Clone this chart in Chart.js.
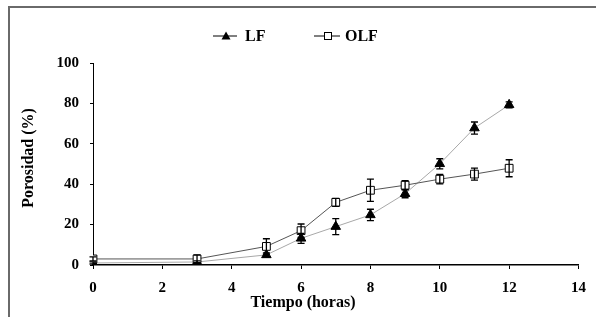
<!DOCTYPE html>
<html>
<head>
<meta charset="utf-8">
<script src="https://cdn.jsdelivr.net/npm/chart.js@4"></script>
<style>
  html, body { margin: 0; padding: 0; background: #fff; }
  #wrap { position: relative; width: 596px; height: 317px; }
  #frame { position: absolute; left: 8px; top: 6px; width: 600px; height: 320px;
           border-left: 2px solid #6a6a6a; border-top: 2px solid #6a6a6a; box-sizing: border-box; }
  canvas { position: absolute; left: 0; top: 0; }
</style>
</head>
<body>
<div id="wrap">
  <div id="frame"></div>
  <canvas id="c" width="596" height="317"></canvas>
</div>
<script>
// ---- data ----
const timeHours = [0, 3, 5, 6, 7, 8, 9, 10, 11, 12];
const lfValues  = [1, 1.5, 5, 13.2, 19, 24.8, 35.3, 50.1, 67.8, 79.3];
const lfErrors  = [0.5, 0.5, 1, 2.5, 4, 2.8, 2, 2.5, 3, 1.5];
const olfValues = [3, 3, 9.2, 17, 31, 37, 39.5, 42.5, 45, 47.9];
const olfErrors = [1, 2, 3.8, 3.3, 2, 5.5, 2.3, 2.3, 3, 4.2];
const seriesNames = ['LF', 'OLF'];
const xTitle = 'Tiempo (horas)';
const yTitle = 'Porosidad (%)';

const toPts = (xs, ys) => xs.map((x, i) => ({x: x, y: ys[i]}));
const FONT = '"Liberation Serif", "Times New Roman", serif';

const errorBars = {
  id: 'errorBars',
  afterDatasetsDraw(chart) {
    const ctx = chart.ctx, xs = chart.scales.x, ys = chart.scales.y;
    const errs = [lfErrors, olfErrors];
    ctx.save();
    ctx.strokeStyle = '#000';
    ctx.lineWidth = 1.3;
    chart.data.datasets.forEach((ds, di) => {
      ds.data.forEach((p, i) => {
        const e = errs[di][i];
        const px = xs.getPixelForValue(p.x);
        const top = ys.getPixelForValue(p.y + e);
        const bot = ys.getPixelForValue(p.y - e);
        ctx.beginPath();
        ctx.moveTo(px, top); ctx.lineTo(px, bot);
        ctx.moveTo(px - 3.5, top); ctx.lineTo(px + 3.5, top);
        ctx.moveTo(px - 3.5, bot); ctx.lineTo(px + 3.5, bot);
        ctx.stroke();
      });
    });
    ctx.restore();
  }
};

const annotations = {
  id: 'annotations',
  afterDraw(chart) {
    const ctx = chart.ctx;
    ctx.save();
    ctx.fillStyle = '#000';
    // axis titles
    ctx.font = 'bold 16px ' + FONT;
    ctx.textAlign = 'center';
    ctx.textBaseline = 'middle';
    ctx.fillText(xTitle, 303, 303);
    ctx.save();
    ctx.translate(29, 158);
    ctx.rotate(-Math.PI / 2);
    ctx.fillText(yTitle, 0, 0);
    ctx.restore();
    // legend
    const ly = 36;
    ctx.lineWidth = 1;
    ctx.strokeStyle = '#000';
    ctx.beginPath(); ctx.moveTo(213, ly); ctx.lineTo(237, ly); ctx.stroke();
    ctx.beginPath(); ctx.moveTo(226, ly - 4.5); ctx.lineTo(230.5, ly + 3.5); ctx.lineTo(221.5, ly + 3.5); ctx.closePath(); ctx.fill();
    ctx.beginPath(); ctx.moveTo(314, ly); ctx.lineTo(340, ly); ctx.stroke();
    ctx.fillStyle = '#fff';
    ctx.fillRect(324.5, ly - 3.5, 7, 7);
    ctx.strokeRect(324.5, ly - 3.5, 7, 7);
    ctx.fillStyle = '#000';
    ctx.font = 'bold 16px ' + FONT;
    ctx.textAlign = 'left';
    ctx.fillText(seriesNames[0], 245, ly + 1);
    ctx.fillText(seriesNames[1], 345, ly + 1);
    ctx.restore();
  }
};

new Chart(document.getElementById('c'), {
  type: 'scatter',
  data: {
    datasets: [
      {
        label: seriesNames[0],
        data: toPts(timeHours, lfValues),
        showLine: true,
        borderColor: '#a8a8a8',
        borderWidth: 1,
        pointStyle: 'triangle',
        pointRadius: 5.5,
        pointBackgroundColor: '#000',
        pointBorderColor: '#000',
        pointBorderWidth: 1,
        order: 2
      },
      {
        label: seriesNames[1],
        data: toPts(timeHours, olfValues),
        showLine: true,
        borderColor: '#555',
        borderWidth: 1,
        pointStyle: 'rect',
        pointRadius: 5.5,
        pointBackgroundColor: '#fff',
        pointBorderColor: '#000',
        pointBorderWidth: 1,
        order: 1
      }
    ]
  },
  options: {
    responsive: false,
    animation: false,
    devicePixelRatio: 1,
    layout: { padding: { left: 0, right: 16, top: 63, bottom: 0 } },
    plugins: { legend: { display: false }, tooltip: { enabled: false } },
    scales: {
      x: {
        type: 'linear', min: 0, max: 14,
        afterFit(s) { s.height = 52; },
        ticks: { stepSize: 2, color: '#000', padding: 10, maxRotation: 0,
                 font: { family: FONT, size: 15, weight: 'bold' } },
        grid: { display: true, drawOnChartArea: false, drawTicks: true, tickLength: 4,
                color: '#000', lineWidth: 1 },
        border: { display: true, color: '#000', width: 1.5 }
      },
      y: {
        min: 0, max: 100,
        afterFit(s) { s.width = 93; },
        ticks: { stepSize: 20, color: '#000', padding: 11,
                 font: { family: FONT, size: 15, weight: 'bold' } },
        grid: { display: true, drawOnChartArea: false, drawTicks: true, tickLength: 3,
                color: '#000', lineWidth: 1 },
        border: { display: true, color: '#000', width: 1 }
      }
    }
  },
  plugins: [errorBars, annotations]
});
</script>
</body>
</html>
